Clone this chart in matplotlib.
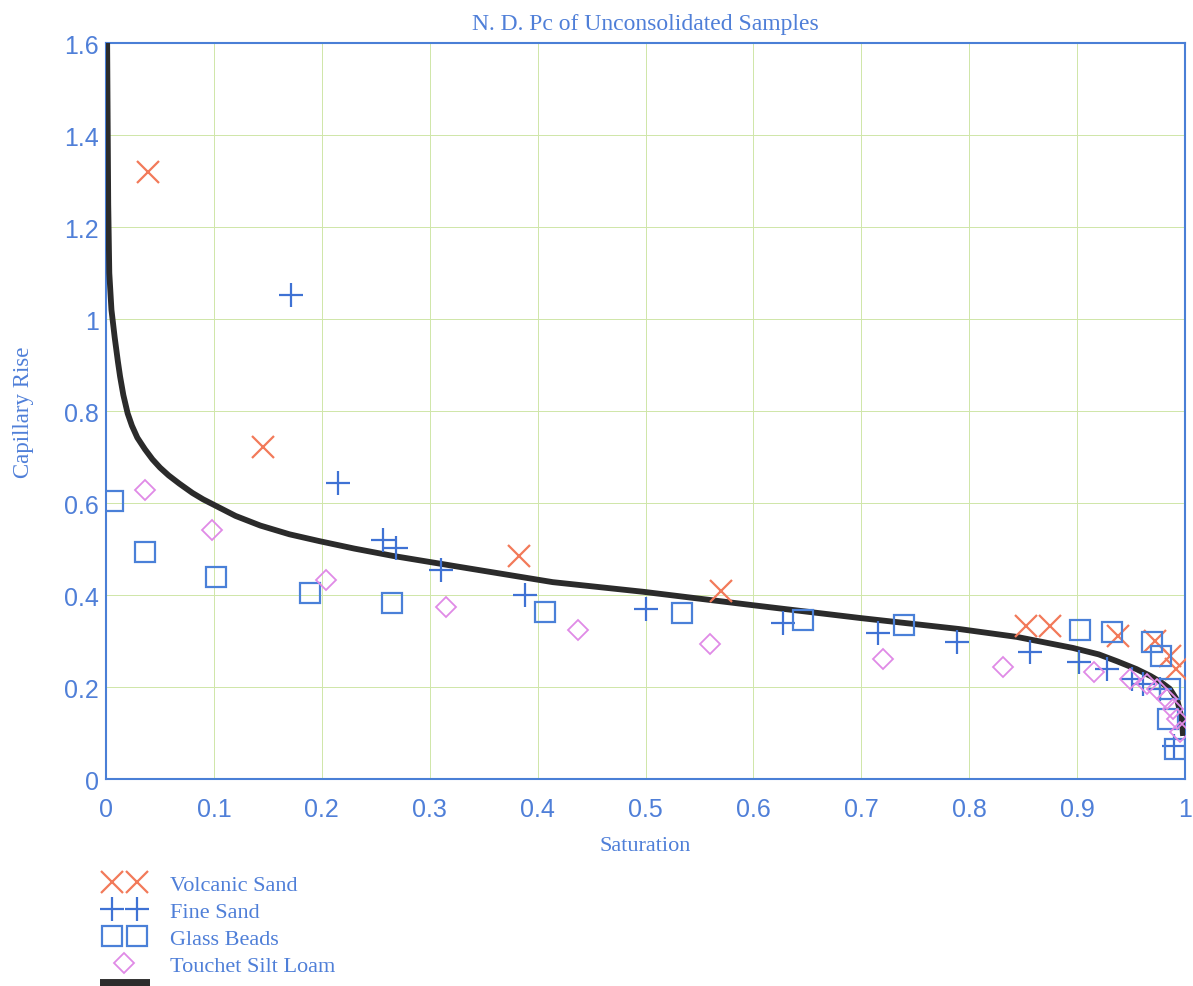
import numpy as np
import matplotlib
matplotlib.use('Agg')
import matplotlib.pyplot as plt
from matplotlib.lines import Line2D
from matplotlib.legend_handler import HandlerLine2D

# ── Data ────────────────────────────────────────────────────────────────────
volcanic_x = [0.039, 0.145, 0.383, 0.570, 0.853, 0.875, 0.938, 0.972, 0.986, 0.992]
volcanic_y = [1.320, 0.722, 0.485, 0.409, 0.333, 0.333, 0.311, 0.300, 0.267, 0.239]

fine_x = [0.171, 0.215, 0.257, 0.269, 0.310, 0.388, 0.500, 0.627, 0.715, 0.789,
          0.856, 0.902, 0.928, 0.951, 0.961, 0.977, 0.990]
fine_y = [1.052, 0.643, 0.520, 0.502, 0.454, 0.400, 0.370, 0.339, 0.317, 0.298,
          0.276, 0.254, 0.239, 0.217, 0.206, 0.196, 0.072]

glass_x = [0.006, 0.036, 0.102, 0.189, 0.265, 0.407, 0.534, 0.646, 0.740, 0.903,
           0.932, 0.969, 0.978, 0.986, 0.984, 0.991]
glass_y = [0.604, 0.493, 0.439, 0.404, 0.383, 0.363, 0.361, 0.346, 0.335, 0.324,
           0.320, 0.297, 0.267, 0.196, 0.130, 0.065]

silt_x = [0.036, 0.098, 0.204, 0.315, 0.437, 0.560, 0.720, 0.831, 0.916, 0.949,
          0.965, 0.974, 0.983, 0.989, 0.993, 0.995]
silt_y = [0.628, 0.541, 0.433, 0.374, 0.324, 0.293, 0.261, 0.243, 0.233, 0.217,
          0.207, 0.196, 0.174, 0.152, 0.130, 0.102]

curve_x = [0.001, 0.002, 0.003, 0.005, 0.008, 0.011, 0.013, 0.016, 0.020, 0.024,
           0.029, 0.036, 0.043, 0.050, 0.058, 0.068, 0.080, 0.090, 0.100, 0.120,
           0.143, 0.170, 0.198, 0.230, 0.266, 0.328, 0.414, 0.498, 0.599, 0.699,
           0.791, 0.844, 0.896, 0.920, 0.937, 0.955, 0.968, 0.978, 0.986, 0.993,
           0.997, 0.998]
curve_y = [1.600, 1.250, 1.100, 1.020, 0.960, 0.907, 0.875, 0.835, 0.795, 0.768,
           0.742, 0.717, 0.695, 0.677, 0.660, 0.642, 0.622, 0.608, 0.596, 0.572,
           0.551, 0.532, 0.517, 0.501, 0.485, 0.461, 0.428, 0.407, 0.378, 0.350,
           0.326, 0.309, 0.285, 0.271, 0.256, 0.239, 0.224, 0.210, 0.196, 0.170,
           0.130, 0.100]

xticks = np.round(np.arange(0, 1.01, 0.1), 1)
xtick_labels = ['0', '0.1', '0.2', '0.3', '0.4', '0.5', '0.6', '0.7', '0.8', '0.9', '1']
yticks = np.round(np.arange(0, 1.61, 0.2), 1)
ytick_labels = ['0', '0.2', '0.4', '0.6', '0.8', '1', '1.2', '1.4', '1.6']

# ── Style ───────────────────────────────────────────────────────────────────
FRAME = '#4a7fd6'
TEXT = '#4f7fd8'
GRID = '#cfe6a8'
CURVE = '#2b2b2b'
SERIF = ['Liberation Serif', 'DejaVu Serif']
SANS = ['Liberation Sans', 'DejaVu Sans']

fig = plt.figure(figsize=(11.93, 9.87), dpi=100, facecolor='white')
ax = fig.add_axes([0.0889, 0.2097, 0.9044, 0.7457])

h_volc, = ax.plot(volcanic_x, volcanic_y, ls='none', marker='x', ms=16, mew=1.6,
                  color='#f27a5a', label='Volcanic Sand', zorder=4)
h_fine, = ax.plot(fine_x, fine_y, ls='none', marker='+', ms=17, mew=1.6,
                  color='#3f72d4', label='Fine Sand', zorder=4)
h_glass, = ax.plot(glass_x, glass_y, ls='none', marker='s', ms=14, mew=1.6,
                   mfc='none', color='#4a80d8', label='Glass Beads', zorder=4)
h_silt, = ax.plot(silt_x, silt_y, ls='none', marker='D', ms=10, mew=1.3,
                  mfc='none', color='#e08ae6', label='Touchet Silt Loam', zorder=4)
ax.plot(curve_x, curve_y, color=CURVE, lw=4.2, zorder=3)

ax.set_xlim(0, 1)
ax.set_ylim(0, 1.6)
ax.set_xticks(xticks)
ax.set_xticklabels(xtick_labels)
ax.set_yticks(yticks)
ax.set_yticklabels(ytick_labels)
ax.tick_params(length=0, labelsize=18, labelcolor=TEXT)
ax.tick_params(axis='x', pad=13)
ax.tick_params(axis='y', pad=5)
for lab in ax.get_xticklabels() + ax.get_yticklabels():
    lab.set_family(SANS)
ax.grid(True, color=GRID, lw=0.7)
for sp in ax.spines.values():
    sp.set_color(FRAME)
    sp.set_linewidth(1.5)

ax.set_title('N. D. Pc of Unconsolidated Samples', family=SERIF, fontsize=17,
             color=TEXT, pad=10)
ax.set_xlabel('Saturation', family=SERIF, fontsize=16, color=TEXT, labelpad=11)
ax.set_ylabel('Capillary Rise', family=SERIF, fontsize=16.5, color=TEXT, labelpad=22)

leg = fig.legend([h_volc, h_fine, h_glass, h_silt],
                 ['Volcanic Sand', 'Fine Sand', 'Glass Beads', 'Touchet Silt Loam'],
                 loc='upper left', bbox_to_anchor=(0.088, 0.1135), frameon=False,
                 numpoints=2, handlelength=1.74, handletextpad=1.2,
                 labelspacing=0.3, borderpad=0, borderaxespad=0,
                 handler_map={h_silt: HandlerLine2D(numpoints=1)},
                 prop={'family': SERIF, 'size': 16})
for t in leg.get_texts():
    t.set_color(TEXT)

# fifth legend key (the fitted curve) is cut off by the page edge in the original
fig.add_artist(Line2D([100 / 1193, 150 / 1193], [0.0, 0.0], transform=fig.transFigure,
                      color=CURVE, lw=10, solid_capstyle='butt'))

fig.savefig('out.png', dpi=100)
